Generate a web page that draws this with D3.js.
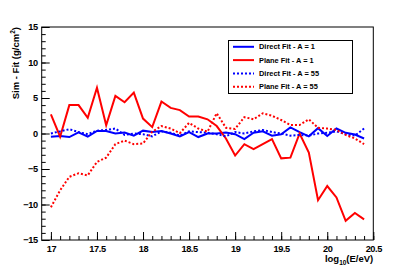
<!DOCTYPE html>
<html>
<head>
<meta charset="utf-8">
<script src="https://cdn.jsdelivr.net/npm/d3@7"></script>
<style>
    body { margin: 0; background: #fff; }
    svg { display: block; }
    .axis text { font-family: "Liberation Sans", Arial, sans-serif; font-weight: bold; font-size: 9.2px; letter-spacing: -0.4px; fill: #000; }
    .axis path, .axis line { stroke: #000; }
    .legend text { font-family: "Liberation Sans", Arial, sans-serif; font-weight: bold; font-size: 7.4px; fill: #000; }
</style>
</head>
<body>
<script>
// log10(E/eV) bins
var logE = [17.0, 17.1, 17.2, 17.3, 17.4, 17.5, 17.6, 17.7, 17.8, 17.9,
            18.0, 18.1, 18.2, 18.3, 18.4, 18.5, 18.6, 18.7, 18.8, 18.9,
            19.0, 19.1, 19.2, 19.3, 19.4, 19.5, 19.6, 19.7, 19.8, 19.9,
            20.0, 20.1, 20.2, 20.3, 20.4];

var directA1 = [-0.45, -0.35, -0.5, 0.15, -0.45, 0.35, 0.35, 0.0, 0.15, -0.3,
                0.4, 0.2, 0.35, 0.0, -0.4, 0.2, -0.5, 0.0, 0.0, 0.15,
                -0.1, -0.8, 0.1, 0.3, -0.3, -0.1, 0.85, 0.2, -0.4, 0.75,
                -0.35, 0.7, 0.1, -0.15, -0.7];

var planeA1 = [2.7, -0.45, 4.0, 4.0, 2.2, 6.45, 1.15, 5.3, 4.4, 5.75,
               2.1, 0.9, 4.5, 3.6, 3.3, 2.4, 2.4, 2.0, 1.05, -0.7,
               -3.1, -1.5, -2.2, -1.5, -0.8, -3.5, -3.4, 0.0, -2.7, -9.4,
               -7.4, -9.0, -12.3, -11.2, -12.1];

var directA55 = [0.0, 0.3, 0.6, 0.2, -0.1, 0.4, 0.5, 0.7, -0.2, 0.0,
                 -0.1, -0.4, 0.3, 0.1, -0.3, 0.3, 0.2, 0.1, -0.1, -0.4,
                 0.2, 0.0, 0.3, 0.5, 0.2, 0.0, -0.3, -0.2, -0.3, 0.0,
                 0.1, 0.3, -0.1, -0.3, 0.7];

var planeA55 = [-10.4, -8.0, -6.1, -5.6, -5.9, -4.0, -3.4, -1.5, -1.0, -1.5,
                -1.4, 0.25, 1.05, 0.7, 0.05, 1.5, 0.7, 0.25, 2.85, 0.8,
                0.65, 2.3, 2.0, 2.85, 2.5, 1.9, 1.2, 1.2, 2.0, 0.8,
                0.7, 0.5, -0.2, -0.7, -1.5];

var xTicks = [17, 17.5, 18, 18.5, 19, 19.5, 20, 20.5];
var yTicks = [-15, -10, -5, 0, 5, 10, 15];

var series = [
    { name: "Direct Fit - A = 1", values: directA1, color: "#0000ff", dash: null },
    { name: "Plane Fit - A = 1", values: planeA1, color: "#ff0000", dash: null },
    { name: "Direct Fit - A = 55", values: directA55, color: "#0000ff", dash: "2,2" },
    { name: "Plane Fit - A = 55", values: planeA55, color: "#ff0000", dash: "2,2" }
];

var width = 415, height = 268;
var frame = { left: 41.7, right: 373.3, top: 27, bottom: 240 };

var svg = d3.select("body").append("svg")
    .attr("width", width)
    .attr("height", height);

var x = d3.scaleLinear().domain([16.9, 20.5]).range([frame.left, frame.right]);
var y = d3.scaleLinear().domain([-15, 15]).range([frame.bottom, frame.top]);

// minor ticks
var xMinor = d3.range(170, 206).map(function (d) { return d / 10; });
var yMinor = d3.range(-15, 16);

svg.append("g")
    .attr("class", "axis")
    .attr("transform", "translate(0," + frame.bottom + ")")
    .call(d3.axisBottom(x).tickValues(xMinor).tickFormat("").tickSize(-4))
    .call(function (g) { g.select(".domain").remove(); });

svg.append("g")
    .attr("class", "axis")
    .attr("transform", "translate(" + frame.left + ",0)")
    .call(d3.axisLeft(y).tickValues(yMinor).tickFormat("").tickSize(-4))
    .call(function (g) { g.select(".domain").remove(); });

// major ticks + labels
svg.append("g")
    .attr("class", "axis")
    .attr("transform", "translate(0," + frame.bottom + ")")
    .call(d3.axisBottom(x).tickValues(xTicks).tickFormat(d3.format("")).tickSizeInner(-8).tickSizeOuter(0).tickPadding(5))
    .call(function (g) { g.select(".domain").remove(); });

svg.append("g")
    .attr("class", "axis")
    .attr("transform", "translate(" + frame.left + ",0)")
    .call(d3.axisLeft(y).tickValues(yTicks).tickFormat(d3.format("")).tickSizeInner(-8).tickSizeOuter(0).tickPadding(4))
    .call(function (g) { g.select(".domain").remove(); });

// frame
svg.append("rect")
    .attr("x", frame.left)
    .attr("y", frame.top)
    .attr("width", frame.right - frame.left)
    .attr("height", frame.bottom - frame.top)
    .attr("fill", "none")
    .attr("stroke", "#000")
    .attr("stroke-width", 1);

var line = d3.line()
    .x(function (d, i) { return x(logE[i]); })
    .y(function (d) { return y(d); });

svg.append("g")
    .selectAll("path")
    .data(series)
    .enter().append("path")
    .attr("d", function (d) { return line(d.values); })
    .attr("fill", "none")
    .attr("stroke", function (d) { return d.color; })
    .attr("stroke-width", 2)
    .attr("stroke-dasharray", function (d) { return d.dash; });

// axis titles
svg.append("text")
    .attr("transform", "translate(19," + frame.top + ") rotate(-90)")
    .attr("text-anchor", "end")
    .style("font-family", "Liberation Sans, Arial, sans-serif")
    .style("font-weight", "bold")
    .style("font-size", "9.5px")
    .html("Sim - Fit (g/cm<tspan dy='-4' font-size='6.5px'>2</tspan><tspan dy='4'>)</tspan>");

svg.append("text")
    .attr("x", frame.right)
    .attr("y", 262)
    .attr("text-anchor", "end")
    .style("font-family", "Liberation Sans, Arial, sans-serif")
    .style("font-weight", "bold")
    .style("font-size", "9.5px")
    .html("log<tspan dy='3' font-size='6.5px'>10</tspan><tspan dy='-3'>(E/eV)</tspan>");

// legend
var legend = svg.append("g").attr("class", "legend");
legend.append("rect")
    .attr("x", 228.5)
    .attr("y", 40.5)
    .attr("width", 124)
    .attr("height", 53)
    .attr("fill", "#fff")
    .attr("stroke", "#000")
    .attr("stroke-width", 1);

var item = legend.selectAll("g.item")
    .data(series)
    .enter().append("g")
    .attr("class", "item")
    .attr("transform", function (d, i) { return "translate(233," + (46.8 + i * 13.3) + ")"; });

item.append("line")
    .attr("x1", 0).attr("x2", 21)
    .attr("stroke", function (d) { return d.color; })
    .attr("stroke-width", 2)
    .attr("stroke-dasharray", function (d) { return d.dash; });

item.append("text")
    .attr("x", 26)
    .attr("dy", "0.35em")
    .text(function (d) { return d.name; });
</script>
</body>
</html>
